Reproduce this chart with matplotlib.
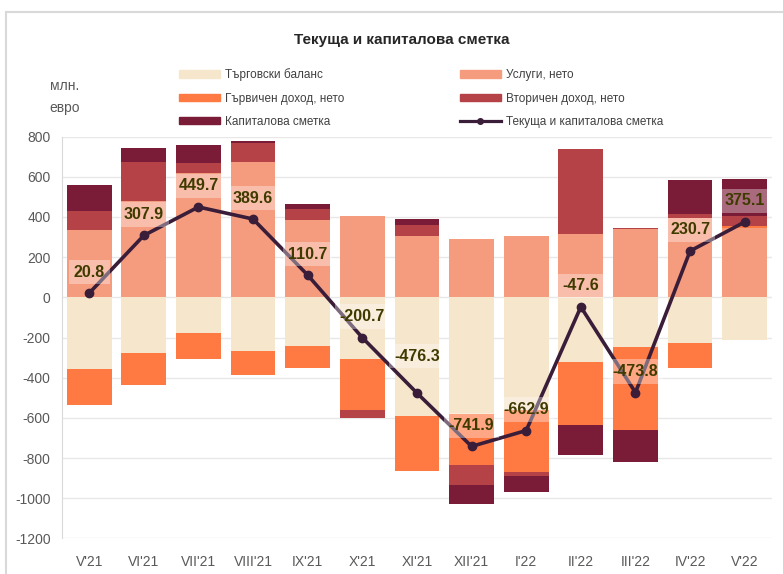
import numpy as np
import matplotlib
matplotlib.use("Agg")
import matplotlib.pyplot as plt
from matplotlib.lines import Line2D

plt.rcParams['font.family'] = ['Liberation Sans Narrow', 'Liberation Sans', 'DejaVu Sans']
plt.rcParams['axes.unicode_minus'] = False

# ─────────────────────────────────────────────
# DATA  (млн. евро)
# ─────────────────────────────────────────────
months    = ["V'21", "VI'21", "VII'21", "VIII'21", "IX'21", "X'21", "XI'21",
             "XII'21", "I'22", "II'22", "III'22", "IV'22", "V'22"]
trade     = [-356, -278, -179, -265, -240, -306, -590, -583, -560, -320, -245, -227, -214]
services  = [337, 480, 620, 673, 385, 403, 307, 288, 307, 317, 342, 397, 345]
primary   = [-179, -158, -127, -122, -114, -254, -276, -253, -311, -313, -414, -124, 10]
secondary = [91, 193, 48, 97, 57, -41, 51, -98, -18, 423, 5, 20, 48]
capital   = [130, 72, 92, 10, 23, 0, 30, -94, -81, -150, -159, 165, 184]
total     = [20.8, 307.9, 449.7, 389.6, 110.7, -200.7, -476.3, -741.9, -662.9, -47.6, -473.8, 230.7, 375.1]

series_names = ["Търговски баланс", "Услуги, нето", "Гървичен доход, нето",
                "Вторичен доход, нето", "Капиталова сметка"]
line_name = "Текуща и капиталова сметка"
colors = ["#F6E6CC", "#F59C7F", "#FF7943", "#B54246", "#7A1B37"]
LINE_COLOR = "#3A1D38"
LABEL_COLOR = "#3F3B00"

# ─────────────────────────────────────────────
# PLOT
# ─────────────────────────────────────────────
fig = plt.figure(figsize=(7.83, 5.74), dpi=100)
ax = fig.add_axes([0.079, 0.062, 0.907, 0.700])

x = np.arange(len(months))
pos_base = np.zeros(len(months))
neg_base = np.zeros(len(months))
handles = []
for vals, name, col in zip([trade, services, primary, secondary, capital], series_names, colors):
    v = np.array(vals, dtype=float)
    bottoms = np.where(v >= 0, pos_base, neg_base)
    ax.bar(x, v, bottom=bottoms, width=0.82, color=col, linewidth=0, zorder=2)
    pos_base += np.where(v >= 0, v, 0)
    neg_base += np.where(v < 0, v, 0)
    handles.append(plt.Rectangle((0, 0), 1, 1, color=col))

ax.plot(x, total, color=LINE_COLOR, lw=2.6, marker="o", ms=6, zorder=4)
line_handle = Line2D([0], [0], color=LINE_COLOR, lw=2.3, marker="o", ms=4)

# data labels sit above the points
for i, v in enumerate(total):
    off = 37 if months[i] == "XI'21" else 21
    ax.annotate(f"{v:.1f}", (x[i], v), xytext=(0, off), textcoords="offset pixels",
                ha="center", va="center", fontsize=11.5, fontweight="bold",
                color=LABEL_COLOR, zorder=5,
                bbox=dict(boxstyle="square,pad=0.3", fc="white", ec="none", alpha=0.35))

ax.set_xlim(-0.5, len(months) - 0.5)
ax.set_ylim(-1200, 800)
ax.set_yticks(np.arange(-1200, 801, 200))
ax.set_xticks(x)
ax.set_xticklabels(months)
ax.tick_params(axis="both", length=0, labelsize=10, colors="#595959")
ax.tick_params(axis="y", pad=8)
ax.tick_params(axis="x", pad=12)
ax.grid(axis="y", color="#E8E8E8", lw=1, zorder=0)
for s in ["top", "right", "bottom"]:
    ax.spines[s].set_visible(False)
ax.spines["left"].set_color("#D9D9D9")

fig.text(0.513, 0.930, "Текуща и капиталова сметка", ha="center", va="center",
         fontsize=11, fontweight="bold", color="#262626")
fig.text(0.082, 0.831, "млн.\nевро", ha="center", va="center", fontsize=10,
         color="#595959", linespacing=1.7)

# legend: two columns, filled column-wise
leg_handles = [handles[0], handles[2], handles[4], handles[1], handles[3], line_handle]
leg_labels = [series_names[0], series_names[2], series_names[4],
              series_names[1], series_names[3], line_name]
fig.legend(leg_handles, leg_labels, ncol=2, frameon=False, fontsize=8.5,
           loc="center left", bbox_to_anchor=(0.222, 0.829), borderaxespad=0,
           handlelength=3.5, handleheight=0.6, handletextpad=0.4,
           columnspacing=9.8, labelspacing=0.95, labelcolor="#404040")

# outer chart frame
fig.add_artist(Line2D([0.008, 0.008], [0, 0.979], color="#D9D9D9", lw=1.5))
fig.add_artist(Line2D([0.008, 1.0], [0.979, 0.979], color="#D9D9D9", lw=1.5))

fig.savefig("out.png", dpi=100)
